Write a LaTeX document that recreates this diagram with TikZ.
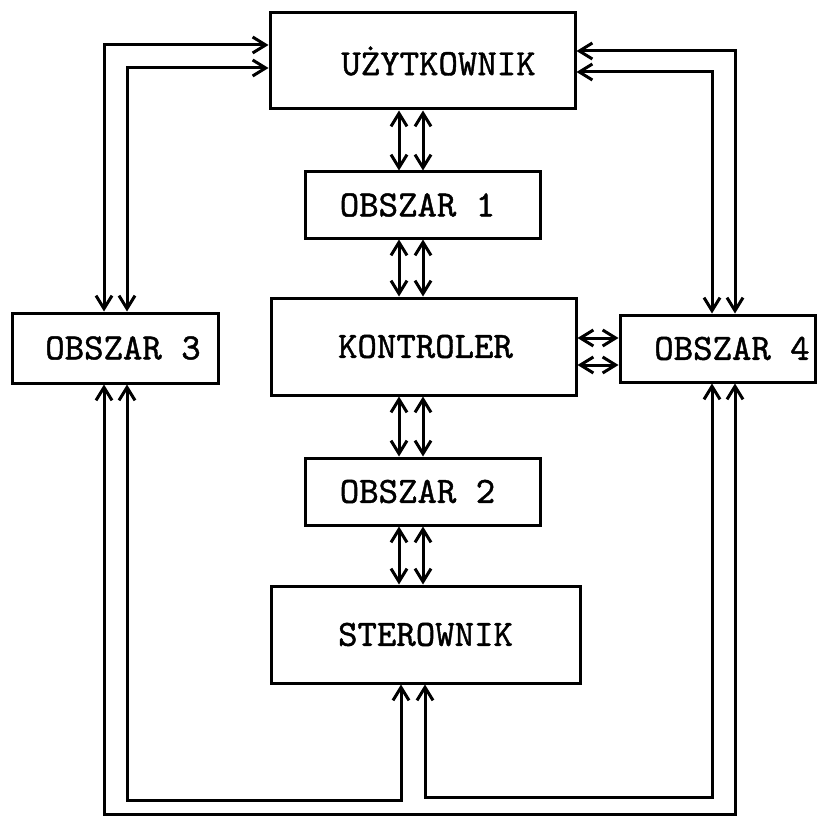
\documentclass[tikz,border=0pt]{standalone}
\usepackage{fontspec}
\newfontfamily\typewr[FakeBold=1.2]{lmmono10-regular.otf}
\usetikzlibrary{arrows.meta}
\begin{document}
\begin{tikzpicture}[x=1pt,y=-1pt,
  box/.style={draw, line width=3pt, inner sep=0pt, font=\fontsize{37}{40}\selectfont\typewr},
  link/.style={line width=3pt, {Straight Barb[length=13pt,width=16pt]}-{Straight Barb[length=13pt,width=16pt]}}]
\useasboundingbox[fill=white] (0,0) rectangle (818,818);
% boxes
\node[box, minimum width=305pt, minimum height=96pt] (uz) at (422.5,61) {\hspace*{32pt}UŻYTKOWNIK};
\node[box, minimum width=235pt, minimum height=66pt] (o1) at (422.5,205) {OBSZAR 1\hspace*{10pt}};
\node[box, minimum width=305pt, minimum height=97pt] (ko) at (423.5,346.5) {\hspace*{4pt}KONTROLER};
\node[box, minimum width=235pt, minimum height=67pt] (o2) at (422.5,491.5) {OBSZAR 2\hspace*{10pt}};
\node[box, minimum width=309pt, minimum height=97pt] (st) at (425.5,634.5) {STEROWNIK};
\node[box, minimum width=206pt, minimum height=70pt] (o3) at (115,348) {\hspace*{16pt}OBSZAR 3};
\node[box, minimum width=195pt, minimum height=67pt] (o4) at (717.5,348.5) {\hspace*{29pt}OBSZAR 4};
% helper coordinates
\coordinate (cL) at (399,0);
\coordinate (cR) at (423,0);
\coordinate (h1) at (0,338);
\coordinate (h2) at (0,365);
\coordinate (lo) at (104,45);
\coordinate (li) at (127,68);
\coordinate (ro) at (735,51);
\coordinate (ri) at (712,72);
\coordinate (a1) at (401,800);
\coordinate (b1) at (712,797);
\coordinate (c1) at (735,814);
\coordinate (sR) at (425,0);
% central double links
\draw[link] (uz.south -| cL) -- (o1.north -| cL);
\draw[link] (uz.south -| cR) -- (o1.north -| cR);
\draw[link] (o1.south -| cL) -- (ko.north -| cL);
\draw[link] (o1.south -| cR) -- (ko.north -| cR);
\draw[link] (ko.south -| cL) -- (o2.north -| cL);
\draw[link] (ko.south -| cR) -- (o2.north -| cR);
\draw[link] (o2.south -| cL) -- (st.north -| cL);
\draw[link] (o2.south -| cR) -- (st.north -| cR);
% KONTROLER - OBSZAR 4
\draw[link] (ko.east |- h1) -- (o4.west |- h1);
\draw[link] (ko.east |- h2) -- (o4.west |- h2);
% top loops
\draw[link] (uz.west |- lo) -| (o3.north -| lo);
\draw[link] (uz.west |- li) -| (o3.north -| li);
\draw[link] (uz.east |- ro) -| (o4.north -| ro);
\draw[link] (uz.east |- ri) -| (o4.north -| ri);
% bottom loops
\draw[link] (o3.south -| li) |- (a1) -- (st.south -| a1);
\draw[link] (st.south -| sR) |- (b1) -- (o4.south -| b1);
\draw[link] (o3.south -| lo) |- (c1) -- (o4.south -| c1);
\end{tikzpicture}
\end{document}
